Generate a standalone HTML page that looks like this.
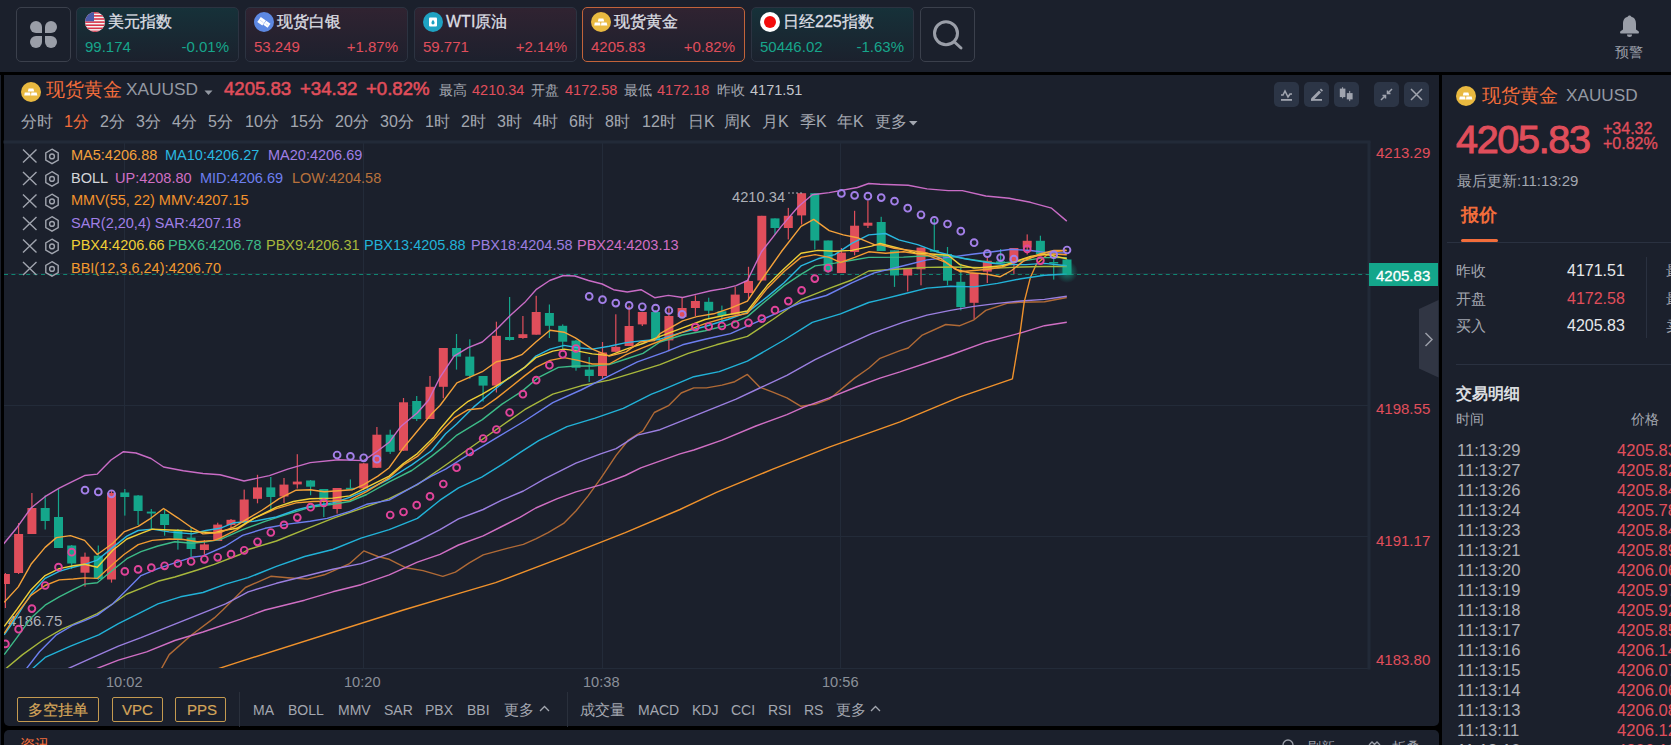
<!DOCTYPE html>
<html><head><meta charset="utf-8">
<style>
*{box-sizing:border-box;margin:0;padding:0}
html,body{width:1671px;height:745px;overflow:hidden;background:#000;font-family:"Liberation Sans",sans-serif;}
.a{position:absolute;white-space:nowrap;line-height:1}
#top{position:absolute;left:0;top:0;width:1671px;height:72px;background:#1b202c}
.card{position:absolute;top:7px;width:163px;height:55px;border:1px solid #2c3341;border-radius:5px}
.card .t{position:absolute;left:31px;top:6px;font-size:16px;line-height:1;color:#dcdee3;white-space:nowrap;-webkit-text-stroke:0.3px #dcdee3}
.card .v{position:absolute;left:8px;top:31px;font-size:15px;line-height:1;white-space:nowrap}
.card .p{position:absolute;right:9px;top:31px;font-size:15px;line-height:1;white-space:nowrap}
.g{color:#17a58b}.r{color:#e04e5c}
.ic{position:absolute;left:8px;top:4px;width:20px;height:20px}
#chart{position:absolute;left:4px;top:75px;width:1435px;height:651px;background:#1b202c;border-radius:0 0 5px 5px;overflow:hidden}
#right{position:absolute;left:1442px;top:75px;width:229px;height:670px;background:#1b202c;overflow:hidden}
#bot{position:absolute;left:4px;top:730px;width:1435px;height:20px;background:#1b202c;border-radius:5px 5px 0 0}
.tb{position:absolute;top:7px;width:25px;height:25px;background:#2c3546;border-radius:5px}
.grey{color:#9a9ea8}
</style></head><body>
<div style="position:absolute;left:0;top:75px;width:1px;height:670px;background:#1b202c"></div>
<div id="top">
  <div style="position:absolute;left:16px;top:7px;width:55px;height:55px;border:1px solid #3b404c;border-radius:5px"></div>
  <svg class="a" style="left:29px;top:20px" width="29" height="29" viewBox="0 0 29 29"><g fill="#9a9ea8">
    <path d="M1 7 A6 6 0 0 1 13 7 V13 H7 A6 6 0 0 1 1 7z"/>
    <path d="M28 7 A6 6 0 0 0 16 7 V13 H22 A6 6 0 0 0 28 7z"/>
    <path d="M1 22 A6 6 0 0 0 13 22 V16 H7 A6 6 0 0 0 1 22z"/>
    <path d="M28 22 A6 6 0 0 1 16 22 V16 H22 A6 6 0 0 1 28 22z"/>
  </g></svg>
  <div class="card" style="left:76px;background:linear-gradient(#163139,#1b212d)">
    <svg class="ic" width="20" height="20" viewBox="0 0 20 20"><defs><clipPath id="cc1"><circle cx="10" cy="10" r="10"/></clipPath></defs>
      <g clip-path="url(#cc1)"><rect width="20" height="20" fill="#f4f4f4"/>
      <rect y="0" width="20" height="1.6" fill="#d8344a"/><rect y="3.1" width="20" height="1.6" fill="#d8344a"/><rect y="6.2" width="20" height="1.6" fill="#d8344a"/><rect y="9.3" width="20" height="1.6" fill="#d8344a"/><rect y="12.4" width="20" height="1.6" fill="#d8344a"/><rect y="15.5" width="20" height="1.6" fill="#d8344a"/><rect y="18.6" width="20" height="1.6" fill="#d8344a"/>
      <rect width="9" height="9.3" fill="#4a5aa8"/></g></svg>
    <div class="t">美元指数</div><div class="v g">99.174</div><div class="p g">-0.01%</div></div>
  <div class="card" style="left:245px;background:linear-gradient(#302331,#1d202d)">
    <svg class="ic" width="20" height="20" viewBox="0 0 20 20"><circle cx="10" cy="10" r="10" fill="#5d88e2"/>
      <g transform="rotate(35 10 10.5)"><rect x="4.2" y="7.8" width="6.2" height="6.2" fill="#fff"/><rect x="10.8" y="7.8" width="5.2" height="5" fill="#fff"/><path d="M5.5 10.9h4M12 10.4h3" stroke="#c9d6f4" stroke-width=".8"/></g></svg>
    <div class="t">现货白银</div><div class="v r">53.249</div><div class="p r">+1.87%</div></div>
  <div class="card" style="left:414px;background:linear-gradient(#302331,#1d202d)">
    <svg class="ic" width="20" height="20" viewBox="0 0 20 20"><circle cx="10" cy="10" r="10" fill="#1fa2c2"/>
      <rect x="6" y="5.5" width="8" height="9" rx="1" fill="#fff"/><path d="M10 7.8 q-1.6 2.2 -1.6 3 a1.6 1.6 0 0 0 3.2 0 q0 -.8 -1.6 -3z" fill="#1fa2c2"/></svg>
    <div class="t">WTI原油</div><div class="v r">59.771</div><div class="p r">+2.14%</div></div>
  <div class="card" style="left:582px;border-color:#c2633a;background:linear-gradient(#302331,#1d202d)">
    <svg class="ic" width="20" height="20" viewBox="0 0 20 20"><circle cx="10" cy="10" r="10" fill="#e9b940"/>
      <g fill="#fff"><path d="M7.6 6.5h4.8l.8 3h-6.4z"/><path d="M3.8 10.6h5.2l.6 3h-6.4z"/><path d="M10.4 10.6h5.2l.8 3h-6.4z"/></g></svg>
    <div class="t">现货黄金</div><div class="v r">4205.83</div><div class="p r">+0.82%</div></div>
  <div class="card" style="left:751px;background:linear-gradient(#163139,#1b212d)">
    <svg class="ic" width="20" height="20" viewBox="0 0 20 20"><circle cx="10" cy="10" r="10" fill="#fff"/><circle cx="10" cy="10" r="6" fill="#f30d0d"/></svg>
    <div class="t">日经225指数</div><div class="v g">50446.02</div><div class="p g">-1.63%</div></div>
  <div style="position:absolute;left:920px;top:7px;width:55px;height:55px;border:1px solid #3b404c;border-radius:5px"></div>
  <svg class="a" style="left:930px;top:18px" width="36" height="36" viewBox="0 0 36 36"><circle cx="16" cy="15.3" r="11.5" fill="none" stroke="#9a9ea8" stroke-width="3"/><path d="M24.5 24 L31 30" stroke="#9a9ea8" stroke-width="3" stroke-linecap="round"/></svg>
  <svg class="a" style="left:1619px;top:15px" width="21" height="23" viewBox="0 0 21 23"><path d="M10.5 0.5 c-1 0 -1.5 .7 -1.8 1.2 C5 2.5 4 5.5 4 9 V14.5 L1.5 16.2 a1.3 1.3 0 0 0 .8 2.3 H18.7 a1.3 1.3 0 0 0 .8 -2.3 L17 14.5 V9 C17 5.5 16 2.5 12.3 1.7 C12 1.2 11.5 .5 10.5 .5z" fill="#9a9ea8"/><path d="M8 19.5 h5 a2.5 2.5 0 0 1 -5 0z" fill="#9a9ea8"/></svg>
  <div class="a grey" style="left:1615px;top:45px;font-size:14px">预警</div>
</div>
<div id="chart"></div>
<div id="right"></div>
<div id="bot"></div>
<svg class="a" style="left:0;top:0" width="1671" height="745" viewBox="0 0 1671 745">
<defs><clipPath id="plot"><rect x="4" y="142" width="1365" height="526"/></clipPath><radialGradient id="glow"><stop offset="0" stop-color="#14a68b" stop-opacity=".9"/><stop offset=".35" stop-color="#14a68b" stop-opacity=".45"/><stop offset="1" stop-color="#14a68b" stop-opacity="0"/></radialGradient></defs>
<g stroke="#232b39" stroke-width="1" fill="none">
<line x1="4" y1="273.5" x2="1369.5" y2="273.5"/>
<line x1="4" y1="405.5" x2="1369.5" y2="405.5"/>
<line x1="4" y1="536.5" x2="1369.5" y2="536.5"/>
<line x1="4" y1="668.5" x2="1369.5" y2="668.5"/>
<line x1="124.5" y1="142" x2="124.5" y2="669"/>
<line x1="363.5" y1="142" x2="363.5" y2="669"/>
<line x1="602.5" y1="142" x2="602.5" y2="669"/>
<line x1="840.5" y1="142" x2="840.5" y2="669"/>
<rect x="1368" y="142" width="2" height="527" fill="#232b39"/><rect x="4" y="141" width="1366" height="2" fill="#232b39"/>
</g>
<g clip-path="url(#plot)">
<line x1="4" y1="274.5" x2="1369" y2="274.5" stroke="#108571" stroke-width="1" stroke-dasharray="4 3.4"/>
<rect x="4.8" y="573.0" width="1.2" height="35.0" fill="#e04e5b"/>
<rect x="0.9" y="574.0" width="9" height="10.0" fill="#e04e5b"/>
<rect x="18.0" y="523.0" width="1.2" height="51.0" fill="#e04e5b"/>
<rect x="14.1" y="534.0" width="9" height="39.0" fill="#e04e5b"/>
<rect x="31.3" y="493.0" width="1.2" height="41.0" fill="#e04e5b"/>
<rect x="27.4" y="508.0" width="9" height="26.0" fill="#e04e5b"/>
<rect x="44.6" y="495.5" width="1.2" height="34.0" fill="#14a68b"/>
<rect x="40.7" y="508.0" width="9" height="13.0" fill="#14a68b"/>
<rect x="57.9" y="489.0" width="1.2" height="59.0" fill="#14a68b"/>
<rect x="54.0" y="517.0" width="9" height="31.0" fill="#14a68b"/>
<rect x="71.1" y="545.0" width="1.2" height="24.0" fill="#14a68b"/>
<rect x="67.2" y="545.5" width="9" height="18.0" fill="#14a68b"/>
<rect x="84.4" y="552.6" width="1.2" height="34.0" fill="#e04e5b"/>
<rect x="80.5" y="556.7" width="9" height="16.0" fill="#e04e5b"/>
<rect x="97.7" y="545.5" width="1.2" height="34.5" fill="#14a68b"/>
<rect x="93.8" y="555.7" width="9" height="23.3" fill="#14a68b"/>
<rect x="110.9" y="491.0" width="1.2" height="91.6" fill="#e04e5b"/>
<rect x="107.0" y="493.0" width="9" height="86.5" fill="#e04e5b"/>
<rect x="124.2" y="489.0" width="1.2" height="26.6" fill="#14a68b"/>
<rect x="120.3" y="492.5" width="9" height="4.5" fill="#14a68b"/>
<rect x="137.5" y="495.0" width="1.2" height="30.0" fill="#14a68b"/>
<rect x="133.6" y="495.5" width="9" height="15.5" fill="#14a68b"/>
<rect x="150.7" y="509.0" width="1.2" height="20.5" fill="#14a68b"/>
<rect x="146.8" y="511.6" width="9" height="1.9" fill="#14a68b"/>
<rect x="164.0" y="509.5" width="1.2" height="26.2" fill="#14a68b"/>
<rect x="160.1" y="514.0" width="9" height="11.0" fill="#14a68b"/>
<rect x="177.3" y="529.0" width="1.2" height="20.6" fill="#14a68b"/>
<rect x="173.4" y="531.0" width="9" height="9.0" fill="#14a68b"/>
<rect x="190.5" y="527.0" width="1.2" height="30.0" fill="#14a68b"/>
<rect x="186.6" y="537.6" width="9" height="11.4" fill="#14a68b"/>
<rect x="203.8" y="540.0" width="1.2" height="14.7" fill="#e04e5b"/>
<rect x="199.9" y="544.4" width="9" height="5.6" fill="#e04e5b"/>
<rect x="217.1" y="522.7" width="1.2" height="18.3" fill="#e04e5b"/>
<rect x="213.2" y="524.6" width="9" height="16.4" fill="#e04e5b"/>
<rect x="230.4" y="519.0" width="1.2" height="11.0" fill="#e04e5b"/>
<rect x="226.5" y="519.8" width="9" height="5.2" fill="#e04e5b"/>
<rect x="243.6" y="489.6" width="1.2" height="32.4" fill="#e04e5b"/>
<rect x="239.7" y="499.5" width="9" height="22.5" fill="#e04e5b"/>
<rect x="256.9" y="474.8" width="1.2" height="28.5" fill="#e04e5b"/>
<rect x="253.0" y="487.4" width="9" height="11.4" fill="#e04e5b"/>
<rect x="270.2" y="477.0" width="1.2" height="34.3" fill="#14a68b"/>
<rect x="266.3" y="487.4" width="9" height="9.6" fill="#14a68b"/>
<rect x="283.4" y="478.0" width="1.2" height="25.0" fill="#e04e5b"/>
<rect x="279.5" y="484.6" width="9" height="11.9" fill="#e04e5b"/>
<rect x="296.7" y="454.2" width="1.2" height="34.3" fill="#e04e5b"/>
<rect x="292.8" y="481.6" width="9" height="2.8" fill="#e04e5b"/>
<rect x="310.0" y="480.0" width="1.2" height="15.3" fill="#14a68b"/>
<rect x="306.1" y="480.5" width="9" height="6.2" fill="#14a68b"/>
<rect x="323.2" y="489.0" width="1.2" height="28.0" fill="#14a68b"/>
<rect x="319.3" y="489.0" width="9" height="11.0" fill="#14a68b"/>
<rect x="336.5" y="488.0" width="1.2" height="25.6" fill="#e04e5b"/>
<rect x="332.6" y="488.0" width="9" height="21.0" fill="#e04e5b"/>
<rect x="349.8" y="479.4" width="1.2" height="10.2" fill="#14a68b"/>
<rect x="345.9" y="487.8" width="9" height="1.8" fill="#14a68b"/>
<rect x="363.1" y="463.0" width="1.2" height="27.0" fill="#e04e5b"/>
<rect x="359.2" y="463.4" width="9" height="25.1" fill="#e04e5b"/>
<rect x="376.3" y="427.0" width="1.2" height="41.0" fill="#e04e5b"/>
<rect x="372.4" y="434.7" width="9" height="33.1" fill="#e04e5b"/>
<rect x="389.6" y="429.7" width="1.2" height="24.3" fill="#14a68b"/>
<rect x="385.7" y="434.7" width="9" height="17.1" fill="#14a68b"/>
<rect x="402.9" y="398.0" width="1.2" height="53.0" fill="#e04e5b"/>
<rect x="399.0" y="402.3" width="9" height="48.4" fill="#e04e5b"/>
<rect x="416.1" y="396.0" width="1.2" height="25.0" fill="#14a68b"/>
<rect x="412.2" y="401.0" width="9" height="18.0" fill="#14a68b"/>
<rect x="429.4" y="376.0" width="1.2" height="43.0" fill="#e04e5b"/>
<rect x="425.5" y="386.8" width="9" height="32.2" fill="#e04e5b"/>
<rect x="442.7" y="348.0" width="1.2" height="50.2" fill="#e04e5b"/>
<rect x="438.8" y="348.0" width="9" height="38.8" fill="#e04e5b"/>
<rect x="455.9" y="334.0" width="1.2" height="35.6" fill="#14a68b"/>
<rect x="452.1" y="348.0" width="9" height="8.6" fill="#14a68b"/>
<rect x="469.2" y="339.3" width="1.2" height="39.5" fill="#14a68b"/>
<rect x="465.3" y="356.6" width="9" height="19.2" fill="#14a68b"/>
<rect x="482.5" y="376.0" width="1.2" height="25.6" fill="#14a68b"/>
<rect x="478.6" y="376.0" width="9" height="9.6" fill="#14a68b"/>
<rect x="495.8" y="321.7" width="1.2" height="70.8" fill="#e04e5b"/>
<rect x="491.9" y="335.8" width="9" height="49.8" fill="#e04e5b"/>
<rect x="509.0" y="297.0" width="1.2" height="43.6" fill="#14a68b"/>
<rect x="505.1" y="337.0" width="9" height="3.0" fill="#14a68b"/>
<rect x="522.3" y="316.0" width="1.2" height="22.8" fill="#e04e5b"/>
<rect x="518.4" y="334.2" width="9" height="3.8" fill="#e04e5b"/>
<rect x="535.6" y="295.8" width="1.2" height="38.9" fill="#e04e5b"/>
<rect x="531.7" y="312.0" width="9" height="22.7" fill="#e04e5b"/>
<rect x="548.8" y="304.5" width="1.2" height="33.5" fill="#14a68b"/>
<rect x="544.9" y="313.0" width="9" height="12.8" fill="#14a68b"/>
<rect x="562.1" y="324.4" width="1.2" height="24.6" fill="#14a68b"/>
<rect x="558.2" y="325.8" width="9" height="15.9" fill="#14a68b"/>
<rect x="575.4" y="340.0" width="1.2" height="30.7" fill="#14a68b"/>
<rect x="571.5" y="340.6" width="9" height="27.2" fill="#14a68b"/>
<rect x="588.6" y="357.0" width="1.2" height="25.0" fill="#14a68b"/>
<rect x="584.8" y="369.6" width="9" height="6.4" fill="#14a68b"/>
<rect x="601.9" y="342.0" width="1.2" height="37.0" fill="#e04e5b"/>
<rect x="598.0" y="352.5" width="9" height="23.5" fill="#e04e5b"/>
<rect x="615.2" y="314.3" width="1.2" height="37.5" fill="#e04e5b"/>
<rect x="611.3" y="346.8" width="9" height="5.0" fill="#e04e5b"/>
<rect x="628.5" y="305.7" width="1.2" height="40.3" fill="#e04e5b"/>
<rect x="624.6" y="326.0" width="9" height="20.0" fill="#e04e5b"/>
<rect x="641.7" y="312.0" width="1.2" height="14.0" fill="#e04e5b"/>
<rect x="637.8" y="312.0" width="9" height="12.4" fill="#e04e5b"/>
<rect x="655.0" y="310.0" width="1.2" height="30.4" fill="#14a68b"/>
<rect x="651.1" y="312.0" width="9" height="28.4" fill="#14a68b"/>
<rect x="668.3" y="305.7" width="1.2" height="45.6" fill="#e04e5b"/>
<rect x="664.4" y="316.0" width="9" height="24.4" fill="#e04e5b"/>
<rect x="681.5" y="297.0" width="1.2" height="20.0" fill="#e04e5b"/>
<rect x="677.6" y="308.0" width="9" height="9.0" fill="#e04e5b"/>
<rect x="694.8" y="295.4" width="1.2" height="20.6" fill="#e04e5b"/>
<rect x="690.9" y="301.0" width="9" height="7.0" fill="#e04e5b"/>
<rect x="708.1" y="297.7" width="1.2" height="21.3" fill="#14a68b"/>
<rect x="704.2" y="301.8" width="9" height="8.9" fill="#14a68b"/>
<rect x="721.3" y="305.6" width="1.2" height="15.9" fill="#14a68b"/>
<rect x="717.4" y="311.3" width="9" height="4.5" fill="#14a68b"/>
<rect x="734.6" y="286.8" width="1.2" height="27.9" fill="#e04e5b"/>
<rect x="730.7" y="294.6" width="9" height="20.1" fill="#e04e5b"/>
<rect x="747.9" y="266.8" width="1.2" height="31.9" fill="#e04e5b"/>
<rect x="744.0" y="281.0" width="9" height="12.0" fill="#e04e5b"/>
<rect x="761.2" y="215.8" width="1.2" height="64.7" fill="#e04e5b"/>
<rect x="757.3" y="215.8" width="9" height="64.7" fill="#e04e5b"/>
<rect x="774.4" y="218.4" width="1.2" height="15.9" fill="#14a68b"/>
<rect x="770.5" y="218.4" width="9" height="9.6" fill="#14a68b"/>
<rect x="787.7" y="207.9" width="1.2" height="31.5" fill="#e04e5b"/>
<rect x="783.8" y="215.8" width="9" height="12.2" fill="#e04e5b"/>
<rect x="801.0" y="193.2" width="1.2" height="31.3" fill="#e04e5b"/>
<rect x="797.1" y="193.2" width="9" height="22.2" fill="#e04e5b"/>
<rect x="814.2" y="193.2" width="1.2" height="56.4" fill="#14a68b"/>
<rect x="810.3" y="193.2" width="9" height="47.3" fill="#14a68b"/>
<rect x="827.5" y="240.5" width="1.2" height="32.5" fill="#14a68b"/>
<rect x="823.6" y="240.5" width="9" height="30.8" fill="#14a68b"/>
<rect x="840.8" y="248.0" width="1.2" height="25.0" fill="#e04e5b"/>
<rect x="836.9" y="252.6" width="9" height="20.4" fill="#e04e5b"/>
<rect x="854.0" y="210.8" width="1.2" height="44.5" fill="#e04e5b"/>
<rect x="850.1" y="225.7" width="9" height="26.3" fill="#e04e5b"/>
<rect x="867.3" y="200.5" width="1.2" height="27.5" fill="#e04e5b"/>
<rect x="863.4" y="222.7" width="9" height="3.0" fill="#e04e5b"/>
<rect x="880.6" y="216.8" width="1.2" height="34.2" fill="#14a68b"/>
<rect x="876.7" y="222.0" width="9" height="29.0" fill="#14a68b"/>
<rect x="893.9" y="250.3" width="1.2" height="36.6" fill="#14a68b"/>
<rect x="890.0" y="250.3" width="9" height="25.2" fill="#14a68b"/>
<rect x="907.1" y="268.6" width="1.2" height="22.8" fill="#e04e5b"/>
<rect x="903.2" y="268.6" width="9" height="6.9" fill="#e04e5b"/>
<rect x="920.4" y="247.6" width="1.2" height="37.7" fill="#e04e5b"/>
<rect x="916.5" y="247.6" width="9" height="21.7" fill="#e04e5b"/>
<rect x="933.7" y="219.0" width="1.2" height="32.7" fill="#14a68b"/>
<rect x="929.8" y="250.0" width="9" height="1.7" fill="#14a68b"/>
<rect x="946.9" y="247.0" width="1.2" height="38.3" fill="#14a68b"/>
<rect x="943.0" y="254.0" width="9" height="26.7" fill="#14a68b"/>
<rect x="960.2" y="263.6" width="1.2" height="46.8" fill="#14a68b"/>
<rect x="956.3" y="281.8" width="9" height="25.2" fill="#14a68b"/>
<rect x="973.5" y="273.0" width="1.2" height="46.5" fill="#e04e5b"/>
<rect x="969.6" y="273.0" width="9" height="29.8" fill="#e04e5b"/>
<rect x="986.7" y="258.0" width="1.2" height="25.0" fill="#e04e5b"/>
<rect x="982.8" y="260.8" width="9" height="10.8" fill="#e04e5b"/>
<rect x="1000.0" y="249.0" width="1.2" height="15.0" fill="#14a68b"/>
<rect x="996.1" y="261.3" width="9" height="1.7" fill="#14a68b"/>
<rect x="1013.3" y="248.0" width="1.2" height="25.9" fill="#e04e5b"/>
<rect x="1009.4" y="248.0" width="9" height="13.3" fill="#e04e5b"/>
<rect x="1026.6" y="234.4" width="1.2" height="20.1" fill="#e04e5b"/>
<rect x="1022.7" y="240.8" width="9" height="6.8" fill="#e04e5b"/>
<rect x="1039.8" y="235.7" width="1.2" height="18.3" fill="#14a68b"/>
<rect x="1035.9" y="240.8" width="9" height="13.2" fill="#14a68b"/>
<rect x="1053.1" y="252.0" width="1.2" height="27.6" fill="#14a68b"/>
<rect x="1049.2" y="262.0" width="9" height="1.5" fill="#14a68b"/>
<rect x="1066.4" y="259.0" width="1.2" height="16.0" fill="#14a68b"/>
<rect x="1062.5" y="259.5" width="9" height="15.5" fill="#14a68b"/>
<text x="8" y="626" font-family="Liberation Sans" font-size="15" fill="#aeb1b8">4186.75</text>
<polyline points="160.7,670.0 169.2,654.6 191.8,634.8 214.3,617.9 222.8,610.0 245.4,587.5 270.8,576.3 287.7,577.7 307.4,579.1 324.3,574.8 349.7,563.6 363.8,550.9 377.9,556.5 389.2,559.3 406.1,567.8 423.0,570.6 442.8,576.3 455.4,572.2 469.3,562.9 483.2,554.9 508.0,548.1 523.4,544.4 535.8,538.8 548.1,532.7 563.6,523.4 575.9,511.0 588.3,495.6 600.6,478.6 616.1,455.4 628.4,440.0 643.0,430.9 654.3,412.5 668.5,405.7 681.2,393.0 693.8,387.9 706.5,387.9 722.0,385.1 734.7,381.7 747.4,374.4 760.1,387.4 772.8,392.2 786.9,397.8 801.0,406.3 815.1,404.3 829.2,399.2 854.6,378.1 868.7,368.2 880.0,358.3 900.0,350.7 908.2,348.0 922.3,335.1 945.8,324.5 959.9,325.7 974.0,319.8 985.8,310.4 1006.9,303.4 1021.0,302.2 1044.5,301.7 1066.8,297.5" fill="none" stroke="#b06a36" stroke-width="1.4" stroke-linejoin="round"/>
<polyline points="93.0,670.0 118.4,660.2 146.6,651.8 174.8,640.5 203.0,632.0 240.0,619.3 265.1,610.0 304.6,600.2 332.8,591.8 361.0,584.7 389.2,574.8 417.4,562.2 440.0,554.3 458.5,545.0 483.2,535.8 501.8,526.5 520.3,517.2 535.8,508.0 557.4,498.7 575.9,491.9 600.6,484.8 625.3,475.5 640.8,467.8 680.0,453.9 693.8,450.0 722.0,440.1 755.9,426.0 786.9,414.7 803.8,407.1 829.2,397.8 857.4,386.5 880.0,378.1 900.0,371.9 950.5,355.0 985.8,342.2 1021.0,332.8 1044.5,325.7 1066.8,322.2" fill="none" stroke="#d06fc4" stroke-width="1.4" stroke-linejoin="round"/>
<polyline points="64.9,670.0 93.0,657.4 118.4,646.1 141.0,637.7 169.2,626.4 197.4,615.1 225.6,603.8 248.2,591.8 276.4,583.3 304.6,576.3 332.8,569.2 361.0,563.6 389.2,553.7 417.4,541.0 440.0,529.6 458.5,518.8 483.2,509.5 501.8,500.2 523.4,491.0 545.0,478.6 575.9,463.2 600.6,453.9 616.1,448.6 637.4,435.1 660.0,429.7 693.8,416.1 736.1,399.2 758.7,388.5 786.9,375.3 815.1,359.7 840.5,347.7 871.5,333.6 903.5,322.2 927.0,315.1 950.5,310.4 974.0,306.4 997.5,303.4 1021.0,301.0 1044.5,299.4 1066.8,296.3" fill="none" stroke="#9b7fe0" stroke-width="1.4" stroke-linejoin="round"/>
<polyline points="214.3,670.0 240.0,661.6 403.4,610.0 460.0,593.2 495.6,582.7 563.6,556.8 625.3,532.7 680.0,509.5 716.4,492.3 772.8,469.2 829.2,447.2 900.0,421.8 960.0,396.9 1012.4,378.9 1019.8,334.6 1024.3,301.7 1030.3,277.8 1036.3,264.3 1049.8,252.4 1066.2,250.3" fill="none" stroke="#f0922c" stroke-width="1.4" stroke-linejoin="round"/>
<polyline points="31.0,670.0 45.1,657.4 70.5,646.1 98.7,634.8 118.4,623.6 141.0,612.3 157.9,603.8 180.5,596.8 203.0,592.5 225.6,584.1 248.2,577.7 276.4,566.4 304.6,556.5 332.8,549.5 361.0,538.2 389.2,529.7 417.4,518.4 440.0,500.2 458.5,487.9 481.7,477.1 501.8,464.7 520.3,452.4 538.7,440.7 566.9,426.6 595.1,418.2 623.3,408.3 651.5,394.2 660.0,390.8 693.8,376.7 719.2,371.6 747.4,361.2 784.1,340.0 812.3,322.3 840.5,313.8 868.7,302.5 880.0,299.9 903.5,294.0 927.0,288.1 950.5,286.2 974.0,286.9 997.5,283.4 1021.0,278.7 1044.5,275.2 1066.8,274.0" fill="none" stroke="#22b2d8" stroke-width="1.4" stroke-linejoin="round"/>
<polyline points="4.2,670.0 22.6,654.6 42.3,640.5 62.0,629.2 81.8,620.7 97.3,613.7 112.8,603.8 126.9,594.0 141.0,588.3 157.9,581.3 174.8,577.0 197.4,570.0 214.3,564.3 240.0,554.5 248.2,549.5 276.4,541.0 304.6,529.7 332.8,518.4 361.0,508.6 389.2,498.7 417.4,484.6 440.0,469.0 468.2,449.2 496.4,429.5 524.6,409.7 552.8,394.2 581.0,385.8 609.2,380.1 637.4,371.7 660.0,364.6 688.2,353.3 716.4,344.8 747.4,336.4 772.8,319.5 801.0,299.7 829.2,288.4 851.8,280.0 868.7,271.0 903.5,268.8 927.0,267.4 950.5,267.0 974.0,267.4 997.5,268.1 1021.0,267.0 1044.5,266.5 1066.8,266.5" fill="none" stroke="#a8b83c" stroke-width="1.4" stroke-linejoin="round"/>
<polyline points="25.4,670.0 39.5,651.8 56.4,634.8 73.3,625.0 84.6,620.7 97.3,615.1 112.8,603.8 126.9,589.7 141.0,575.6 157.9,568.6 174.8,562.9 191.8,557.3 203.0,555.9 225.6,546.0 242.6,535.4 265.1,528.3 287.7,524.1 310.2,521.3 327.2,518.4 349.7,511.4 366.6,504.3 389.2,500.1 411.8,487.4 431.5,476.1 445.6,469.1 468.2,454.8 496.4,437.9 524.6,421.0 552.8,402.7 581.0,390.0 609.2,375.9 637.4,361.8 665.6,351.9 682.6,344.8 705.1,339.2 730.5,333.6 755.9,322.3 778.4,312.4 801.0,302.5 826.4,295.5 851.8,282.8 874.3,272.9 903.5,265.8 927.0,259.9 950.5,257.1 974.0,254.0 992.8,251.7 1011.6,249.3 1030.4,250.5 1049.2,252.9 1066.8,252.9" fill="none" stroke="#6d7ff0" stroke-width="1.4" stroke-linejoin="round"/>
<polyline points="4.2,654.6 16.9,637.7 31.0,617.9 45.1,605.2 59.2,596.8 73.3,589.7 84.6,584.1 97.3,582.7 112.8,570.0 126.9,558.7 141.0,551.7 157.9,546.0 174.8,541.8 191.8,543.2 205.9,541.8 220.0,539.6 242.6,529.7 265.1,521.3 287.7,514.2 310.2,507.2 332.8,504.3 349.7,501.5 366.6,494.5 389.2,481.8 411.8,470.5 431.5,456.4 445.6,445.1 456.9,435.1 482.3,419.6 502.0,404.1 521.8,391.4 538.7,377.3 558.4,367.4 575.4,366.0 592.3,366.0 609.2,364.6 626.1,359.0 643.0,353.3 660.0,342.0 682.6,335.0 705.1,330.7 727.7,325.1 747.4,316.6 767.2,299.7 784.1,285.6 801.0,274.3 815.1,265.9 834.8,263.1 851.8,260.2 868.7,257.4 903.5,257.1 927.0,255.7 950.5,256.4 974.0,259.9 997.5,263.4 1021.0,261.1 1044.5,257.6 1066.8,257.6" fill="none" stroke="#3dbb88" stroke-width="1.4" stroke-linejoin="round"/>
<polyline points="4.2,634.8 16.9,616.5 31.0,594.0 45.1,578.4 59.2,571.4 73.3,567.2 84.6,564.3 97.3,560.1 112.8,547.4 126.9,536.1 138.2,530.5 152.3,529.1 169.2,531.9 191.8,533.9 205.9,530.5 220.0,528.3 234.1,522.7 253.8,521.3 276.4,517.0 296.1,510.0 313.1,505.8 332.8,502.9 349.7,497.3 366.6,490.2 389.2,479.0 411.8,464.9 431.5,450.8 445.6,433.8 456.9,423.8 473.8,406.9 490.8,392.8 507.7,378.7 524.6,367.4 535.9,356.1 550.0,349.1 564.1,345.4 578.2,347.7 592.3,349.1 609.2,346.3 626.1,342.6 643.0,340.6 660.0,339.2 682.6,332.2 705.1,326.5 727.7,319.5 747.4,312.4 767.2,296.9 784.1,282.8 801.0,265.9 817.9,258.8 834.8,254.6 851.8,243.3 868.7,234.9 885.6,233.5 898.8,239.9 917.6,244.6 936.4,251.7 950.5,255.2 964.6,258.7 978.7,261.1 992.8,263.4 1006.9,264.6 1025.7,264.6 1044.5,263.4 1066.8,265.8" fill="none" stroke="#2ab8e0" stroke-width="1.4" stroke-linejoin="round"/>
<polyline points="4.2,633.4 16.9,613.7 31.0,595.4 45.1,585.5 59.2,579.9 73.3,579.0 84.6,577.9 97.3,578.4 112.8,564.3 124.0,554.5 138.2,544.6 152.3,540.4 169.2,539.0 183.3,539.5 197.4,541.8 214.3,540.4 220.0,538.2 236.9,529.7 253.8,518.4 276.4,508.6 296.1,502.9 313.1,501.5 332.8,501.0 349.7,500.1 366.6,491.7 389.2,477.6 403.4,464.9 417.4,456.4 431.5,442.3 445.6,426.8 454.1,418.2 468.2,409.7 482.3,408.3 496.4,398.4 510.5,387.2 524.6,375.9 535.9,367.4 550.0,360.4 564.1,357.6 578.2,360.4 592.3,364.0 609.2,364.0 626.1,354.7 643.0,347.7 660.0,341.0 682.6,332.2 705.1,323.7 724.9,318.0 747.4,313.3 767.2,288.4 784.1,271.5 801.0,257.4 815.1,254.6 829.2,257.4 840.5,262.5 854.6,257.4 868.7,251.8 885.6,253.2 903.5,251.7 927.0,255.2 945.8,262.3 959.9,271.7 974.0,270.5 988.1,269.3 1002.2,267.0 1021.0,259.9 1039.8,255.2 1053.9,254.0 1066.8,254.7" fill="none" stroke="#f29a30" stroke-width="1.4" stroke-linejoin="round"/>
<polyline points="4.2,626.4 16.9,609.5 31.0,589.7 45.1,575.6 59.2,568.6 73.3,565.8 84.6,564.3 97.3,567.2 112.8,550.2 126.9,539.0 141.0,533.3 152.3,529.1 169.2,530.0 183.3,530.5 197.4,531.9 214.3,532.8 220.0,531.1 236.9,528.3 253.8,518.4 276.4,507.2 293.3,501.5 310.2,498.7 332.8,498.1 349.7,495.9 366.6,487.4 389.2,476.1 403.4,463.5 417.4,453.6 434.3,436.7 440.0,429.0 454.1,412.5 468.2,401.3 482.3,394.2 496.4,385.8 510.5,377.3 524.6,367.4 535.9,357.6 552.8,351.1 564.1,349.1 578.2,351.1 592.3,353.9 609.2,355.6 626.1,349.1 643.0,343.5 660.0,336.4 682.6,327.9 705.1,319.5 724.9,315.2 747.4,311.0 767.2,285.6 784.1,268.7 801.0,253.2 817.9,250.4 834.8,251.2 851.8,250.4 871.5,246.1 880.0,243.5 898.8,248.2 915.3,252.9 931.7,254.0 948.2,255.2 959.9,264.6 974.0,268.1 988.1,267.0 1002.2,265.8 1016.3,261.1 1030.4,256.4 1044.5,254.0 1066.8,258.7" fill="none" stroke="#f0cf36" stroke-width="1.4" stroke-linejoin="round"/>
<polyline points="4.2,602.4 18.3,586.9 31.0,564.3 45.1,547.4 56.4,537.6 70.5,535.6 84.6,540.4 97.3,554.5 112.8,543.2 124.0,531.9 138.2,526.3 149.5,519.2 163.6,508.5 177.7,517.8 191.8,527.7 203.0,533.9 220.0,532.5 234.1,526.9 248.2,518.4 262.3,510.0 279.2,498.7 296.1,490.2 310.2,489.7 324.3,491.7 338.4,490.8 352.5,489.7 363.8,484.6 377.9,476.1 389.2,467.7 403.4,447.9 417.4,431.0 431.5,414.1 440.0,405.5 456.9,382.9 482.3,371.7 496.4,361.8 510.5,359.0 521.8,354.7 535.9,342.0 550.0,330.2 564.1,332.2 575.4,337.8 592.3,349.1 609.2,356.1 626.1,351.9 640.2,342.0 654.3,340.6 660.0,333.6 682.6,320.9 696.7,316.6 713.6,313.8 730.5,308.2 747.4,301.1 761.5,280.0 781.3,251.8 801.0,226.4 813.7,219.4 829.2,230.6 843.3,234.9 857.4,237.7 874.3,244.7 880.0,244.6 894.1,248.2 910.6,250.5 927.0,252.9 941.1,258.7 955.2,269.3 969.3,272.8 985.8,274.0 999.9,276.8 1011.6,270.5 1023.4,261.1 1039.8,254.0 1053.9,250.5 1066.8,250.5" fill="none" stroke="#f5a23a" stroke-width="1.4" stroke-linejoin="round"/>
<polyline points="0.0,548.0 4.2,543.2 16.9,527.7 31.0,508.0 45.0,496.7 59.2,488.2 73.3,481.2 84.6,475.5 97.3,474.1 111.0,460.0 123.5,451.7 136.0,453.0 151.0,458.5 163.6,467.0 183.3,470.7 203.0,473.5 220.0,474.7 244.0,481.0 269.4,475.6 287.7,469.1 310.2,462.6 338.4,459.8 363.8,460.6 377.9,450.8 389.2,442.3 400.5,426.8 417.4,412.7 428.7,400.0 440.0,377.3 454.1,356.1 468.2,347.7 482.3,342.0 496.4,329.4 510.5,315.3 524.6,302.6 536.0,289.7 549.7,280.5 563.4,275.5 574.8,276.0 588.5,280.5 602.2,284.0 613.6,289.7 627.3,292.0 641.0,289.7 654.7,297.7 668.4,295.4 682.6,297.5 696.7,294.1 710.8,290.7 724.9,288.4 736.1,285.6 747.4,280.5 761.5,251.8 781.3,226.4 798.2,206.7 812.3,194.8 829.2,192.6 857.4,187.5 868.7,183.5 880.0,184.2 908.2,185.2 927.0,188.9 948.2,190.6 962.3,190.6 985.8,196.0 1009.3,198.3 1030.4,202.3 1051.6,208.2 1066.8,221.1" fill="none" stroke="#c96cc6" stroke-width="1.4" stroke-linejoin="round"/>
<circle cx="5.4" cy="643.9" r="3.4" fill="none" stroke="#e0449a" stroke-width="1.9"/>
<circle cx="18.6" cy="629.2" r="3.4" fill="none" stroke="#e0449a" stroke-width="1.9"/>
<circle cx="31.9" cy="608.6" r="3.4" fill="none" stroke="#e0449a" stroke-width="1.9"/>
<circle cx="45.2" cy="585.5" r="3.4" fill="none" stroke="#e0449a" stroke-width="1.9"/>
<circle cx="58.5" cy="567.2" r="3.4" fill="none" stroke="#e0449a" stroke-width="1.9"/>
<circle cx="71.7" cy="552.2" r="3.4" fill="none" stroke="#e0449a" stroke-width="1.9"/>
<circle cx="85.0" cy="490.2" r="3.4" fill="none" stroke="#a37fe8" stroke-width="1.9"/>
<circle cx="98.3" cy="491.9" r="3.4" fill="none" stroke="#a37fe8" stroke-width="1.9"/>
<circle cx="111.5" cy="493.8" r="3.4" fill="none" stroke="#a37fe8" stroke-width="1.9"/>
<circle cx="124.8" cy="571.4" r="3.4" fill="none" stroke="#e0449a" stroke-width="1.9"/>
<circle cx="138.1" cy="569.4" r="3.4" fill="none" stroke="#e0449a" stroke-width="1.9"/>
<circle cx="151.3" cy="567.7" r="3.4" fill="none" stroke="#e0449a" stroke-width="1.9"/>
<circle cx="164.6" cy="565.8" r="3.4" fill="none" stroke="#e0449a" stroke-width="1.9"/>
<circle cx="177.9" cy="563.5" r="3.4" fill="none" stroke="#e0449a" stroke-width="1.9"/>
<circle cx="191.1" cy="561.5" r="3.4" fill="none" stroke="#e0449a" stroke-width="1.9"/>
<circle cx="204.4" cy="559.3" r="3.4" fill="none" stroke="#e0449a" stroke-width="1.9"/>
<circle cx="217.7" cy="557.3" r="3.4" fill="none" stroke="#e0449a" stroke-width="1.9"/>
<circle cx="231.0" cy="554.2" r="3.4" fill="none" stroke="#e0449a" stroke-width="1.9"/>
<circle cx="244.2" cy="550.3" r="3.4" fill="none" stroke="#e0449a" stroke-width="1.9"/>
<circle cx="257.5" cy="541.8" r="3.4" fill="none" stroke="#e0449a" stroke-width="1.9"/>
<circle cx="270.8" cy="532.5" r="3.4" fill="none" stroke="#e0449a" stroke-width="1.9"/>
<circle cx="284.0" cy="524.9" r="3.4" fill="none" stroke="#e0449a" stroke-width="1.9"/>
<circle cx="297.3" cy="517.6" r="3.4" fill="none" stroke="#e0449a" stroke-width="1.9"/>
<circle cx="310.6" cy="507.2" r="3.4" fill="none" stroke="#e0449a" stroke-width="1.9"/>
<circle cx="323.8" cy="502.9" r="3.4" fill="none" stroke="#e0449a" stroke-width="1.9"/>
<circle cx="337.1" cy="455.0" r="3.4" fill="none" stroke="#a37fe8" stroke-width="1.9"/>
<circle cx="350.4" cy="456.4" r="3.4" fill="none" stroke="#a37fe8" stroke-width="1.9"/>
<circle cx="363.7" cy="457.8" r="3.4" fill="none" stroke="#a37fe8" stroke-width="1.9"/>
<circle cx="376.9" cy="459.2" r="3.4" fill="none" stroke="#a37fe8" stroke-width="1.9"/>
<circle cx="390.2" cy="515.0" r="3.4" fill="none" stroke="#e0449a" stroke-width="1.9"/>
<circle cx="403.5" cy="512.0" r="3.4" fill="none" stroke="#e0449a" stroke-width="1.9"/>
<circle cx="416.7" cy="505.2" r="3.4" fill="none" stroke="#e0449a" stroke-width="1.9"/>
<circle cx="430.0" cy="496.4" r="3.4" fill="none" stroke="#e0449a" stroke-width="1.9"/>
<circle cx="443.3" cy="484.0" r="3.4" fill="none" stroke="#e0449a" stroke-width="1.9"/>
<circle cx="456.6" cy="467.7" r="3.4" fill="none" stroke="#e0449a" stroke-width="1.9"/>
<circle cx="469.8" cy="452.0" r="3.4" fill="none" stroke="#e0449a" stroke-width="1.9"/>
<circle cx="483.1" cy="438.5" r="3.4" fill="none" stroke="#e0449a" stroke-width="1.9"/>
<circle cx="496.4" cy="429.5" r="3.4" fill="none" stroke="#e0449a" stroke-width="1.9"/>
<circle cx="509.6" cy="412.5" r="3.4" fill="none" stroke="#e0449a" stroke-width="1.9"/>
<circle cx="522.9" cy="394.2" r="3.4" fill="none" stroke="#e0449a" stroke-width="1.9"/>
<circle cx="536.2" cy="380.1" r="3.4" fill="none" stroke="#e0449a" stroke-width="1.9"/>
<circle cx="549.4" cy="365.2" r="3.4" fill="none" stroke="#e0449a" stroke-width="1.9"/>
<circle cx="562.7" cy="354.2" r="3.4" fill="none" stroke="#e0449a" stroke-width="1.9"/>
<circle cx="576.0" cy="348.5" r="3.4" fill="none" stroke="#e0449a" stroke-width="1.9"/>
<circle cx="589.2" cy="296.4" r="3.4" fill="none" stroke="#a37fe8" stroke-width="1.9"/>
<circle cx="602.5" cy="299.7" r="3.4" fill="none" stroke="#a37fe8" stroke-width="1.9"/>
<circle cx="615.8" cy="303.1" r="3.4" fill="none" stroke="#a37fe8" stroke-width="1.9"/>
<circle cx="629.1" cy="305.4" r="3.4" fill="none" stroke="#a37fe8" stroke-width="1.9"/>
<circle cx="642.3" cy="306.8" r="3.4" fill="none" stroke="#a37fe8" stroke-width="1.9"/>
<circle cx="655.6" cy="308.2" r="3.4" fill="none" stroke="#a37fe8" stroke-width="1.9"/>
<circle cx="668.9" cy="310.5" r="3.4" fill="none" stroke="#a37fe8" stroke-width="1.9"/>
<circle cx="682.1" cy="314.4" r="3.4" fill="none" stroke="#a37fe8" stroke-width="1.9"/>
<circle cx="695.4" cy="327.1" r="3.4" fill="none" stroke="#e0449a" stroke-width="1.9"/>
<circle cx="708.7" cy="326.5" r="3.4" fill="none" stroke="#e0449a" stroke-width="1.9"/>
<circle cx="721.9" cy="326.0" r="3.4" fill="none" stroke="#e0449a" stroke-width="1.9"/>
<circle cx="735.2" cy="324.5" r="3.4" fill="none" stroke="#e0449a" stroke-width="1.9"/>
<circle cx="748.5" cy="322.8" r="3.4" fill="none" stroke="#e0449a" stroke-width="1.9"/>
<circle cx="761.8" cy="318.6" r="3.4" fill="none" stroke="#e0449a" stroke-width="1.9"/>
<circle cx="775.0" cy="310.2" r="3.4" fill="none" stroke="#e0449a" stroke-width="1.9"/>
<circle cx="788.3" cy="301.1" r="3.4" fill="none" stroke="#e0449a" stroke-width="1.9"/>
<circle cx="801.6" cy="290.4" r="3.4" fill="none" stroke="#e0449a" stroke-width="1.9"/>
<circle cx="814.8" cy="278.6" r="3.4" fill="none" stroke="#e0449a" stroke-width="1.9"/>
<circle cx="828.1" cy="268.1" r="3.4" fill="none" stroke="#e0449a" stroke-width="1.9"/>
<circle cx="841.4" cy="193.4" r="3.4" fill="none" stroke="#a37fe8" stroke-width="1.9"/>
<circle cx="854.6" cy="195.4" r="3.4" fill="none" stroke="#a37fe8" stroke-width="1.9"/>
<circle cx="867.9" cy="196.2" r="3.4" fill="none" stroke="#a37fe8" stroke-width="1.9"/>
<circle cx="881.2" cy="197.6" r="3.4" fill="none" stroke="#a37fe8" stroke-width="1.9"/>
<circle cx="894.5" cy="201.2" r="3.4" fill="none" stroke="#a37fe8" stroke-width="1.9"/>
<circle cx="907.7" cy="208.2" r="3.4" fill="none" stroke="#a37fe8" stroke-width="1.9"/>
<circle cx="921.0" cy="214.8" r="3.4" fill="none" stroke="#a37fe8" stroke-width="1.9"/>
<circle cx="934.3" cy="220.4" r="3.4" fill="none" stroke="#a37fe8" stroke-width="1.9"/>
<circle cx="947.5" cy="224.0" r="3.4" fill="none" stroke="#a37fe8" stroke-width="1.9"/>
<circle cx="960.8" cy="231.2" r="3.4" fill="none" stroke="#a37fe8" stroke-width="1.9"/>
<circle cx="974.1" cy="242.7" r="3.4" fill="none" stroke="#a37fe8" stroke-width="1.9"/>
<circle cx="987.3" cy="253.6" r="3.4" fill="none" stroke="#a37fe8" stroke-width="1.9"/>
<circle cx="1000.6" cy="257.6" r="3.4" fill="none" stroke="#a37fe8" stroke-width="1.9"/>
<circle cx="1013.9" cy="259.2" r="3.4" fill="none" stroke="#a37fe8" stroke-width="1.9"/>
<circle cx="1027.2" cy="248.9" r="3.4" fill="none" stroke="#e0449a" stroke-width="1.9"/>
<circle cx="1040.4" cy="260.6" r="3.4" fill="none" stroke="#e0449a" stroke-width="1.9"/>
<circle cx="1053.7" cy="254.7" r="3.4" fill="none" stroke="#a37fe8" stroke-width="1.9"/>
<circle cx="1067.0" cy="250.0" r="3.4" fill="none" stroke="#a37fe8" stroke-width="1.9"/>
<circle cx="1067.0" cy="272" r="11" fill="url(#glow)"/>
</g>
</svg>
<!-- chart header -->
<svg class="a" style="left:21px;top:82px" width="20" height="20" viewBox="0 0 20 20"><circle cx="10" cy="10" r="10" fill="#e9b940"/>
  <g fill="#fff"><path d="M7.6 6.5h4.8l.8 3h-6.4z"/><path d="M3.8 10.6h5.2l.6 3h-6.4z"/><path d="M10.4 10.6h5.2l.8 3h-6.4z"/></g></svg>
<div class="a" style="left:46px;top:81px;font-size:18.6px;color:#f26d3b">现货黄金</div>
<div class="a" style="left:126px;top:81px;font-size:17.3px;color:#9499a3">XAUUSD</div>
<svg class="a" style="left:204px;top:90px" width="10" height="6"><path d="M0.5 0.5h8l-4 4.5z" fill="#9499a3"/></svg>
<div class="a" style="left:224px;top:80px;font-size:18.6px;color:#e04e5b;-webkit-text-stroke:0.55px #e04e5b">4205.83</div>
<div class="a" style="left:300px;top:80px;font-size:18.6px;color:#e04e5b;-webkit-text-stroke:0.55px #e04e5b">+34.32</div>
<div class="a" style="left:366px;top:80px;font-size:18.6px;color:#e04e5b;-webkit-text-stroke:0.55px #e04e5b">+0.82%</div>
<div class="a" style="left:439px;top:83px;font-size:14px;color:#a3a7b0">最高</div>
<div class="a" style="left:472px;top:82.5px;font-size:14.5px;color:#e04e5b">4210.34</div>
<div class="a" style="left:531px;top:83px;font-size:14px;color:#a3a7b0">开盘</div>
<div class="a" style="left:565px;top:82.5px;font-size:14.5px;color:#e04e5b">4172.58</div>
<div class="a" style="left:624px;top:83px;font-size:14px;color:#a3a7b0">最低</div>
<div class="a" style="left:657px;top:82.5px;font-size:14.5px;color:#e04e5b">4172.18</div>
<div class="a" style="left:717px;top:83px;font-size:14px;color:#a3a7b0">昨收</div>
<div class="a" style="left:750px;top:82.5px;font-size:14.5px;color:#c3c6cc">4171.51</div>
<div id="tf" style="position:absolute;left:0;top:114px;font-size:16px;color:#a3a7b0">
<span class="a" style="left:21px">分时</span><span class="a" style="left:64px;color:#f26d3b">1分</span><span class="a" style="left:100px">2分</span><span class="a" style="left:136px">3分</span><span class="a" style="left:172px">4分</span><span class="a" style="left:208px">5分</span><span class="a" style="left:245px">10分</span><span class="a" style="left:290px">15分</span><span class="a" style="left:335px">20分</span><span class="a" style="left:380px">30分</span><span class="a" style="left:425px">1时</span><span class="a" style="left:461px">2时</span><span class="a" style="left:497px">3时</span><span class="a" style="left:533px">4时</span><span class="a" style="left:569px">6时</span><span class="a" style="left:605px">8时</span><span class="a" style="left:642px">12时</span><span class="a" style="left:688px">日K</span><span class="a" style="left:724px">周K</span><span class="a" style="left:762px">月K</span><span class="a" style="left:800px">季K</span><span class="a" style="left:837px">年K</span><span class="a" style="left:875px">更多</span>
</div>
<svg class="a" style="left:909px;top:121px" width="9" height="5"><path d="M0 0h8.5l-4.25 4.5z" fill="#a3a7b0"/></svg>
<!-- toolbar -->
<div style="position:absolute;left:0;top:75px">
<div class="tb" style="left:1274px"><svg width="25" height="25" viewBox="0 0 25 25"><path d="M7 13 h2 l2 -4 l3 6 l2 -3 h2" fill="none" stroke="#a0a4ae" stroke-width="1.6"/><rect x="7" y="17" width="11" height="1.8" fill="#a0a4ae"/></svg></div>
<div class="tb" style="left:1304px"><svg width="25" height="25" viewBox="0 0 25 25"><path d="M7 16.5 L15 8.5 l2 2 L9 18.5 H7z" fill="#a0a4ae"/><path d="M15.8 7.7 l1.2 -1.2 l2 2 l-1.2 1.2z" fill="#a0a4ae"/><rect x="7" y="17" width="11" height="1.8" fill="#a0a4ae"/></svg></div>
<div class="tb" style="left:1334px"><svg width="25" height="25" viewBox="0 0 25 25"><g fill="#a0a4ae"><rect x="5.8" y="6.6" width="5.6" height="8.5"/><rect x="8.1" y="5.2" width="1" height="11.1"/><rect x="12.8" y="11.1" width="5.8" height="6.3"/><rect x="15.2" y="8.9" width="1" height="10.2"/></g></svg></div>
<div class="tb" style="left:1374px"><svg width="25" height="25" viewBox="0 0 25 25"><g stroke="#a0a4ae" stroke-width="1.5" fill="none"><path d="M7 18 L11.5 13.5 M8.5 13.5 h3 v3"/><path d="M18 7 L13.5 11.5 M16.5 11.5 h-3 v-3"/></g></svg></div>
<div class="tb" style="left:1404px"><svg width="25" height="25" viewBox="0 0 25 25"><path d="M7 7 L18 18 M18 7 L7 18" stroke="#a0a4ae" stroke-width="1.5"/></svg></div>
</div>
<!-- legend -->
<svg class="a" style="left:20px;top:146px" width="44" height="134" viewBox="0 0 44 134">
<g stroke="#a0a4ae" stroke-width="1.4" fill="none">
<g transform="translate(0 0.0)"><path d="M3 3.5 L16.5 16.5 M16.5 3.5 L3 16.5"/><path d="M32 3.2 l6.2 3.6 v7.2 l-6.2 3.6 l-6.2 -3.6 v-7.2z"/><circle cx="32" cy="10.4" r="2.4"/></g><g transform="translate(0 22.5)"><path d="M3 3.5 L16.5 16.5 M16.5 3.5 L3 16.5"/><path d="M32 3.2 l6.2 3.6 v7.2 l-6.2 3.6 l-6.2 -3.6 v-7.2z"/><circle cx="32" cy="10.4" r="2.4"/></g><g transform="translate(0 45.0)"><path d="M3 3.5 L16.5 16.5 M16.5 3.5 L3 16.5"/><path d="M32 3.2 l6.2 3.6 v7.2 l-6.2 3.6 l-6.2 -3.6 v-7.2z"/><circle cx="32" cy="10.4" r="2.4"/></g><g transform="translate(0 67.5)"><path d="M3 3.5 L16.5 16.5 M16.5 3.5 L3 16.5"/><path d="M32 3.2 l6.2 3.6 v7.2 l-6.2 3.6 l-6.2 -3.6 v-7.2z"/><circle cx="32" cy="10.4" r="2.4"/></g><g transform="translate(0 90.0)"><path d="M3 3.5 L16.5 16.5 M16.5 3.5 L3 16.5"/><path d="M32 3.2 l6.2 3.6 v7.2 l-6.2 3.6 l-6.2 -3.6 v-7.2z"/><circle cx="32" cy="10.4" r="2.4"/></g><g transform="translate(0 112.5)"><path d="M3 3.5 L16.5 16.5 M16.5 3.5 L3 16.5"/><path d="M32 3.2 l6.2 3.6 v7.2 l-6.2 3.6 l-6.2 -3.6 v-7.2z"/><circle cx="32" cy="10.4" r="2.4"/></g>
</g></svg>
<div style="position:absolute;left:0;top:0;font-size:14.5px">
<span class="a" style="left:71px;top:148px;color:#f4a03c">MA5:4206.88</span>
<span class="a" style="left:165px;top:148px;color:#2ab8e0">MA10:4206.27</span>
<span class="a" style="left:268px;top:148px;color:#a07fe6">MA20:4206.69</span>
<span class="a" style="left:71px;top:170.5px;color:#d4d6da">BOLL</span>
<span class="a" style="left:115px;top:170.5px;color:#d06fc4">UP:4208.80</span>
<span class="a" style="left:200px;top:170.5px;color:#6d7ff0">MID:4206.69</span>
<span class="a" style="left:292px;top:170.5px;color:#b8723c">LOW:4204.58</span>
<span class="a" style="left:71px;top:193px;color:#f2922c">MMV(55, 22) MMV:4207.15</span>
<span class="a" style="left:71px;top:215.5px;color:#a07fe6">SAR(2,20,4) SAR:4207.18</span>
<span class="a" style="left:71px;top:238px;color:#f0cf36">PBX4:4206.66</span>
<span class="a" style="left:168px;top:238px;color:#3dbb88">PBX6:4206.78</span>
<span class="a" style="left:266px;top:238px;color:#a8b83c">PBX9:4206.31</span>
<span class="a" style="left:364px;top:238px;color:#22b2d8">PBX13:4205.88</span>
<span class="a" style="left:471px;top:238px;color:#9b7fe0">PBX18:4204.58</span>
<span class="a" style="left:577px;top:238px;color:#d06fc4">PBX24:4203.13</span>
<span class="a" style="left:71px;top:260.5px;color:#f29a30">BBI(12,3,6,24):4206.70</span>
</div>
<!-- axis labels -->
<div style="position:absolute;left:0;top:0;font-size:15px;color:#e04e5b">
<span class="a" style="left:1376px;top:145px">4213.29</span>
<span class="a" style="left:1376px;top:401px">4198.55</span>
<span class="a" style="left:1376px;top:533px">4191.17</span>
<span class="a" style="left:1376px;top:652px">4183.80</span>
</div>
<div class="a" style="left:1369px;top:263px;width:69px;height:23px;background:#14a68b"></div>
<div class="a" style="left:1376px;top:268px;font-size:15px;color:#fff;-webkit-text-stroke:0.3px #fff">4205.83</div>
<div class="a" style="left:732px;top:190px;font-size:14.7px;color:#aeb1b8">4210.34</div>
<svg class="a" style="left:788px;top:192px" width="16" height="3"><path d="M0 1h2M4 1h2M8 1h2M12 1h2" stroke="#aeb1b8" stroke-width="1"/></svg>
<div style="position:absolute;left:0;top:0;font-size:14.6px;color:#8b9099">
<span class="a" style="left:106px;top:675px">10:02</span>
<span class="a" style="left:344px;top:675px">10:20</span>
<span class="a" style="left:583px;top:675px">10:38</span>
<span class="a" style="left:822px;top:675px">10:56</span>
</div>
<!-- collapse tab -->
<svg class="a" style="left:1419px;top:300px" width="20" height="78" viewBox="0 0 20 78"><path d="M0 9 L19.5 0 V77.5 L0 68.5z" fill="#313644"/><path d="M6.5 33 l6.5 6.5 l-6.5 6.5" fill="none" stroke="#9a9ea8" stroke-width="1.5"/></svg>
<!-- bottom toolbar -->
<div style="position:absolute;left:0;top:0;font-size:15px;color:#d4a55a;-webkit-text-stroke:0.2px #d4a55a">
<div class="a" style="left:17px;top:697px;width:82px;height:25px;border:1.5px solid #c49a50;border-radius:2px"></div>
<div class="a" style="left:112px;top:697px;width:51px;height:25px;border:1.5px solid #c49a50;border-radius:2px"></div>
<div class="a" style="left:175px;top:697px;width:51px;height:25px;border:1.5px solid #c49a50;border-radius:2px"></div>
<span class="a" style="left:28px;top:702px">多空挂单</span>
<span class="a" style="left:122px;top:702px">VPC</span>
<span class="a" style="left:187px;top:702px">PPS</span>
</div>
<div class="a" style="left:239px;top:692px;width:1px;height:35px;background:#2a303c"></div>
<div class="a" style="left:567px;top:692px;width:1px;height:35px;background:#2a303c"></div>
<div style="position:absolute;left:0;top:0;font-size:14px;color:#a3a7b0">
<span class="a" style="left:253px;top:703px">MA</span>
<span class="a" style="left:288px;top:703px">BOLL</span>
<span class="a" style="left:338px;top:703px">MMV</span>
<span class="a" style="left:384px;top:703px">SAR</span>
<span class="a" style="left:425px;top:703px">PBX</span>
<span class="a" style="left:467px;top:703px">BBI</span>
<span class="a" style="left:504px;top:702px;font-size:15px">更多</span>
<span class="a" style="left:580px;top:702px;font-size:15px">成交量</span>
<span class="a" style="left:638px;top:703px">MACD</span>
<span class="a" style="left:692px;top:703px">KDJ</span>
<span class="a" style="left:731px;top:703px">CCI</span>
<span class="a" style="left:768px;top:703px">RSI</span>
<span class="a" style="left:804px;top:703px">RS</span>
<span class="a" style="left:836px;top:702px;font-size:15px">更多</span>
</div>
<svg class="a" style="left:539px;top:705px" width="11" height="7"><path d="M1 6 L5.5 1.5 L10 6" fill="none" stroke="#a3a7b0" stroke-width="1.3"/></svg>
<svg class="a" style="left:870px;top:705px" width="11" height="7"><path d="M1 6 L5.5 1.5 L10 6" fill="none" stroke="#a3a7b0" stroke-width="1.3"/></svg>
<div class="a" style="left:20px;top:737px;font-size:15px;color:#f26d3b">资讯</div>
<div class="a" style="left:1307px;top:740px;font-size:14px;color:#9a9ea8">刷新</div>
<div class="a" style="left:1392px;top:740px;font-size:14px;color:#9a9ea8">折叠</div>
<svg class="a" style="left:1281px;top:738px" width="14" height="8"><path d="M2 7 a5 5 0 0 1 10 0" fill="none" stroke="#9a9ea8" stroke-width="1.3"/></svg>
<svg class="a" style="left:1367px;top:739px" width="14" height="8"><path d="M2 6 l3 -3 l3 3 M7 6 l3 -3 l3 3" fill="none" stroke="#9a9ea8" stroke-width="1.3"/></svg>
<!-- right panel -->
<svg class="a" style="left:1456px;top:86px" width="20" height="20" viewBox="0 0 20 20"><circle cx="10" cy="10" r="10" fill="#e9b940"/>
  <g fill="#fff"><path d="M7.6 6.5h4.8l.8 3h-6.4z"/><path d="M3.8 10.6h5.2l.6 3h-6.4z"/><path d="M10.4 10.6h5.2l.8 3h-6.4z"/></g></svg>
<div class="a" style="left:1482px;top:87px;font-size:18.6px;color:#f26d3b">现货黄金</div>
<div class="a" style="left:1566px;top:87px;font-size:17.2px;color:#9499a3">XAUUSD</div>
<div class="a" style="left:1456px;top:120px;font-size:39.5px;color:#e04e5b;letter-spacing:-1.3px;-webkit-text-stroke:1px #e04e5b">4205.83</div>
<div class="a" style="left:1603px;top:121px;font-size:16px;color:#e04e5b;-webkit-text-stroke:0.3px #e04e5b">+34.32</div>
<div class="a" style="left:1603px;top:136px;font-size:16px;color:#e04e5b;-webkit-text-stroke:0.3px #e04e5b">+0.82%</div>
<div class="a" style="left:1457px;top:173px;font-size:15px;color:#a3a7b0">最后更新:11:13:29</div>
<div class="a" style="left:1461px;top:206px;font-size:18px;font-weight:bold;color:#f26d3b">报价</div>
<div class="a" style="left:1461px;top:239px;width:37px;height:3px;background:#f26d3b;border-radius:1.5px"></div>
<div class="a" style="left:1447px;top:242px;width:224px;height:1px;background:#2a3140"></div>
<div style="position:absolute;left:0;top:0;font-size:15px;color:#a3a7b0">
<span class="a" style="left:1456px;top:263px">昨收</span>
<span class="a" style="left:1456px;top:291px">开盘</span>
<span class="a" style="left:1456px;top:318px">买入</span>
<span class="a" style="left:1666px;top:263px">最高</span>
<span class="a" style="left:1666px;top:291px">最低</span>
<span class="a" style="left:1666px;top:318px">卖出</span>
</div>
<div style="position:absolute;left:0;top:0;font-size:16px">
<span class="a" style="left:1567px;top:263px;color:#e6e8eb">4171.51</span>
<span class="a" style="left:1567px;top:291px;color:#e04e5b">4172.58</span>
<span class="a" style="left:1567px;top:318px;color:#e6e8eb">4205.83</span>
</div>
<div class="a" style="left:1646px;top:257px;width:1px;height:81px;background:#2a3140"></div>
<div class="a" style="left:1456px;top:364px;width:215px;height:1px;background:#2a3140"></div>
<div class="a" style="left:1456px;top:386px;font-size:16px;color:#e6e8eb;-webkit-text-stroke:0.5px #e6e8eb">交易明细</div>
<div class="a" style="left:1456px;top:412px;font-size:14px;color:#a3a7b0">时间</div>
<div class="a" style="left:1631px;top:412px;font-size:14px;color:#a3a7b0">价格</div>
<div id="trades" style="position:absolute;left:0;top:0;font-size:16.6px">
<span class="a" style="left:1457px;top:443px;color:#abaeb5">11:13:29</span><span class="a" style="left:1617px;top:443px;color:#e04e5b">4205.83</span>
<span class="a" style="left:1457px;top:463px;color:#abaeb5">11:13:27</span><span class="a" style="left:1617px;top:463px;color:#e04e5b">4205.82</span>
<span class="a" style="left:1457px;top:483px;color:#abaeb5">11:13:26</span><span class="a" style="left:1617px;top:483px;color:#e04e5b">4205.84</span>
<span class="a" style="left:1457px;top:503px;color:#abaeb5">11:13:24</span><span class="a" style="left:1617px;top:503px;color:#e04e5b">4205.78</span>
<span class="a" style="left:1457px;top:523px;color:#abaeb5">11:13:23</span><span class="a" style="left:1617px;top:523px;color:#e04e5b">4205.84</span>
<span class="a" style="left:1457px;top:543px;color:#abaeb5">11:13:21</span><span class="a" style="left:1617px;top:543px;color:#e04e5b">4205.89</span>
<span class="a" style="left:1457px;top:563px;color:#abaeb5">11:13:20</span><span class="a" style="left:1617px;top:563px;color:#e04e5b">4206.06</span>
<span class="a" style="left:1457px;top:583px;color:#abaeb5">11:13:19</span><span class="a" style="left:1617px;top:583px;color:#e04e5b">4205.97</span>
<span class="a" style="left:1457px;top:603px;color:#abaeb5">11:13:18</span><span class="a" style="left:1617px;top:603px;color:#e04e5b">4205.92</span>
<span class="a" style="left:1457px;top:623px;color:#abaeb5">11:13:17</span><span class="a" style="left:1617px;top:623px;color:#e04e5b">4205.85</span>
<span class="a" style="left:1457px;top:643px;color:#abaeb5">11:13:16</span><span class="a" style="left:1617px;top:643px;color:#e04e5b">4206.14</span>
<span class="a" style="left:1457px;top:663px;color:#abaeb5">11:13:15</span><span class="a" style="left:1617px;top:663px;color:#e04e5b">4206.07</span>
<span class="a" style="left:1457px;top:683px;color:#abaeb5">11:13:14</span><span class="a" style="left:1617px;top:683px;color:#e04e5b">4206.06</span>
<span class="a" style="left:1457px;top:703px;color:#abaeb5">11:13:13</span><span class="a" style="left:1617px;top:703px;color:#e04e5b">4206.08</span>
<span class="a" style="left:1457px;top:723px;color:#abaeb5">11:13:11</span><span class="a" style="left:1617px;top:723px;color:#e04e5b">4206.12</span>
<span class="a" style="left:1457px;top:743px;color:#abaeb5">11:13:10</span><span class="a" style="left:1617px;top:743px;color:#e04e5b">4206.10</span>
</div>
</body></html>
